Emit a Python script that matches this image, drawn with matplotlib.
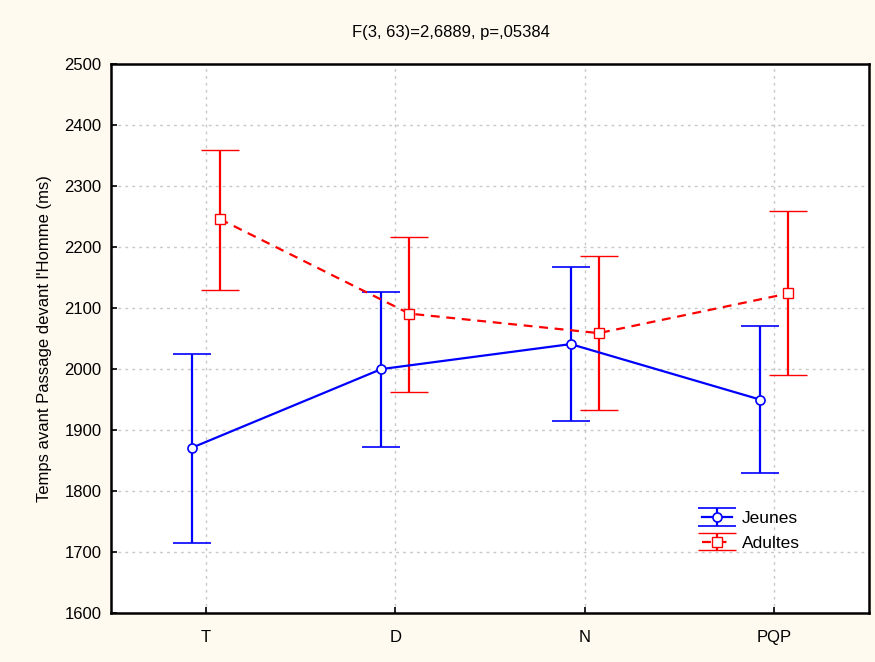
import matplotlib.pyplot as plt
import numpy as np

plt.rcParams['font.family'] = ['Liberation Sans', 'DejaVu Sans']

categories = ['T', 'D', 'N', 'PQP']
jeunes = [1871, 2000, 2041, 1950]
jeunes_low = [1714, 1873, 1915, 1830]
jeunes_high = [2025, 2126, 2168, 2070]
adultes = [2246, 2091, 2059, 2124]
adultes_low = [2130, 1963, 1933, 1990]
adultes_high = [2359, 2216, 2186, 2259]
title = 'F(3, 63)=2,6889, p=,05384'

bg = '#fffaf0'
fig = plt.figure(figsize=(8.75, 6.62), dpi=100, facecolor=bg)
ax = fig.add_axes([0.127, 0.074, 0.866, 0.829])

x = np.arange(len(categories))
off = 0.074

j = np.array(jeunes)
a = np.array(adultes)
ax.errorbar(x - off, j, yerr=[j - np.array(jeunes_low), np.array(jeunes_high) - j],
            color='#0000ff', lw=1.6, capsize=14, capthick=1.6,
            marker='o', ms=6.5, mfc='white', mec='#0000ff', mew=1.2,
            label='Jeunes', zorder=3)
ax.errorbar(x + off, a, yerr=[a - np.array(adultes_low), np.array(adultes_high) - a],
            color='#ff0000', lw=1.6, capsize=14, capthick=1.6, ls=(0, (4, 3)),
            marker='s', ms=6.5, mfc='white', mec='#ff0000', mew=1.0,
            label='Adultes', zorder=3)

ax.set_xlim(-0.5, 3.5)
ax.set_ylim(1600, 2500)
ax.set_xticks(x)
ax.set_xticklabels(categories)
ax.set_yticks(np.arange(1600, 2501, 100))
ax.tick_params(direction='in', length=4, width=1.2, labelsize=12, pad=12)
ax.tick_params(axis='y', pad=7)
ax.grid(True, ls=(0, (2, 3)), color='#c8c8c8', lw=1)
ax.set_axisbelow(True)
for s in ax.spines.values():
    s.set_linewidth(1.8)

ax.set_ylabel("Temps avant Passage devant l'Homme (ms)", fontsize=12, labelpad=9)
fig.text(0.515, 0.951, title, ha='center', va='center', fontsize=12)

leg = ax.legend(loc='upper left', bbox_to_anchor=(0.768, 0.202), frameon=False,
                fontsize=12.5, handlelength=1.75, labelspacing=0.55,
                borderpad=0, handletextpad=0.55)

plt.savefig('out.png', dpi=100, facecolor=bg)
